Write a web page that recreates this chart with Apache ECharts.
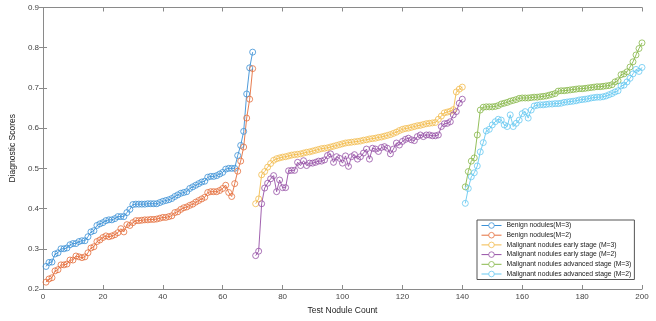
<!DOCTYPE html>
<html>
<head>
<meta charset="utf-8">
<script src="https://cdn.jsdelivr.net/npm/echarts@6/dist/echarts.min.js"></script>
<style>
html,body{margin:0;padding:0;background:#fff;}
#chart{width:656px;height:321px;}
</style>
</head>
<body>
<div id="chart"></div>
<script>
// Series names (legend order)
const seriesNames = [
  'Benign nodules(M=3)',
  'Benign nodules(M=2)',
  'Malignant nodules early stage (M=3)',
  'Malignant nodules early stage (M=2)',
  'Malignant nodules advanced stage (M=3)',
  'Malignant nodules advanced stage (M=2)'
];
// First x index of each series
const startIndex = [1, 1, 71, 71, 141, 141];

// Benign nodules, x = 1..70
const benignM3 = [0.256,0.266,0.267,0.287,0.290,0.300,0.300,0.302,0.310,0.313,
  0.313,0.318,0.320,0.320,0.330,0.342,0.345,0.358,0.362,0.365,
  0.370,0.372,0.372,0.375,0.380,0.380,0.380,0.390,0.398,0.410,
  0.411,0.411,0.411,0.411,0.412,0.412,0.412,0.412,0.415,0.418,
  0.420,0.422,0.425,0.430,0.434,0.438,0.440,0.442,0.450,0.454,
  0.458,0.462,0.466,0.468,0.478,0.480,0.480,0.482,0.486,0.490,
  0.498,0.500,0.500,0.500,0.532,0.557,0.592,0.685,0.750,0.789];
const benignM2 = [0.217,0.225,0.228,0.245,0.248,0.260,0.260,0.262,0.272,0.272,
  0.282,0.280,0.278,0.280,0.290,0.302,0.305,0.318,0.322,0.328,
  0.332,0.330,0.332,0.335,0.340,0.350,0.342,0.360,0.358,0.365,
  0.370,0.370,0.371,0.372,0.372,0.373,0.373,0.374,0.376,0.378,
  0.378,0.380,0.382,0.390,0.392,0.398,0.402,0.404,0.408,0.411,
  0.416,0.420,0.424,0.428,0.440,0.442,0.442,0.442,0.445,0.450,
  0.458,0.440,0.430,0.462,0.493,0.518,0.553,0.625,0.672,0.748];

// Malignant early stage, x = 71..140
const earlyM3 = [0.412,0.424,0.484,0.492,0.503,0.512,0.520,0.524,0.526,0.528,
  0.529,0.531,0.533,0.534,0.535,0.536,0.538,0.540,0.541,0.543,
  0.545,0.547,0.549,0.550,0.551,0.553,0.555,0.557,0.559,0.561,
  0.563,0.564,0.565,0.566,0.567,0.568,0.570,0.571,0.573,0.574,
  0.575,0.577,0.578,0.580,0.582,0.584,0.587,0.590,0.594,0.597,
  0.599,0.600,0.602,0.604,0.606,0.607,0.609,0.611,0.612,0.613,
  0.614,0.622,0.630,0.638,0.640,0.642,0.646,0.690,0.697,0.702];
const earlyM2 = [0.283,0.294,0.412,0.451,0.463,0.474,0.482,0.442,0.471,0.452,
  0.452,0.494,0.495,0.495,0.515,0.507,0.519,0.507,0.513,0.513,
  0.515,0.518,0.518,0.521,0.532,0.536,0.515,0.529,0.525,0.513,
  0.531,0.505,0.529,0.534,0.523,0.529,0.538,0.548,0.523,0.550,
  0.548,0.542,0.552,0.554,0.550,0.536,0.548,0.563,0.558,0.567,
  0.572,0.575,0.571,0.569,0.579,0.583,0.579,0.583,0.583,0.581,
  0.581,0.583,0.604,0.611,0.612,0.616,0.633,0.641,0.662,0.672];

// Malignant advanced stage, x = 141..200
const advM3 = [0.454,0.492,0.518,0.526,0.583,0.645,0.652,0.653,0.653,0.653,
  0.654,0.656,0.660,0.662,0.664,0.667,0.669,0.671,0.674,0.675,
  0.675,0.675,0.676,0.677,0.677,0.678,0.679,0.680,0.682,0.684,
  0.686,0.692,0.693,0.693,0.694,0.695,0.696,0.697,0.698,0.698,
  0.699,0.700,0.701,0.702,0.703,0.703,0.704,0.705,0.706,0.708,
  0.715,0.718,0.733,0.735,0.740,0.752,0.765,0.782,0.798,0.812];
const advM2 = [0.413,0.450,0.479,0.489,0.506,0.541,0.564,0.593,0.597,0.608,
  0.616,0.622,0.620,0.608,0.604,0.633,0.604,0.612,0.620,0.636,
  0.641,0.625,0.645,0.655,0.657,0.658,0.658,0.659,0.660,0.660,
  0.661,0.661,0.662,0.664,0.665,0.666,0.667,0.668,0.670,0.671,
  0.672,0.673,0.675,0.676,0.677,0.677,0.678,0.680,0.683,0.686,
  0.690,0.693,0.705,0.707,0.715,0.724,0.735,0.746,0.741,0.751];

// Axis ticks
const xTicks = [0,20,40,60,80,100,120,140,160,180,200];
const yTicks = [0.2,0.3,0.4,0.5,0.6,0.7,0.8,0.9];

const colors = ['#3b90d6','#e46e3c','#f2bb4c','#9650a6','#88b84a','#68c9f1'];
const allValues = [benignM3, benignM2, earlyM3, earlyM2, advM3, advM2];

const FONT = '"Liberation Sans", Arial, sans-serif';
const axisColor = '#8a8a8a';
const labelColor = '#444';

const series = allValues.map((vals, i) => ({
  name: seriesNames[i],
  type: 'line',
  xAxisIndex: 0,
  yAxisIndex: 0,
  data: vals.map((v, k) => [startIndex[i] + k, v]),
  symbol: 'circle',
  symbolSize: 6,
  showAllSymbol: true,
  lineStyle: { width: 0.9, color: colors[i] },
  itemStyle: { color: 'rgba(255,255,255,0)', borderColor: colors[i], borderWidth: 0.8 },
  emphasis: { disabled: true }
}));

const chart = echarts.init(document.getElementById('chart'), null, { renderer: 'canvas' });
chart.setOption({
  animation: false,
  backgroundColor: '#fff',
  color: colors,
  grid: { left: 41, right: 14, top: 7.5, bottom: 32, containLabel: false },
  legend: {
    data: seriesNames.map((n, i) => ({
      name: n,
      itemStyle: { color: '#fff', borderColor: colors[i], borderWidth: 0.8 },
      lineStyle: { color: colors[i], width: 1 }
    })),
    orient: 'vertical',
    left: 477,
    top: 220,
    itemWidth: 20,
    itemHeight: 7,
    itemGap: 2.7,
    padding: [2, 3, 2, 4],
    borderColor: '#555',
    borderWidth: 1,
    backgroundColor: '#fff',
    textStyle: { fontSize: 6.8, color: '#222', fontFamily: FONT }
  },
  xAxis: [{
    type: 'value',
    min: 0, max: 200, interval: 20,
    position: 'bottom',
    name: 'Test Nodule Count',
    nameLocation: 'middle',
    nameGap: 16.5,
    nameTextStyle: { fontSize: 8.5, color: '#222', fontFamily: FONT },
    axisLine: { show: true, lineStyle: { color: axisColor, width: 1 } },
    axisTick: { show: true, inside: true, length: 4, lineStyle: { color: axisColor } },
    axisLabel: { fontSize: 8, color: labelColor, margin: 4, fontFamily: FONT,
      customValues: xTicks },
    splitLine: { show: false }
  }, {
    type: 'value',
    min: 0, max: 200, interval: 20,
    position: 'top',
    axisLine: { show: true, lineStyle: { color: axisColor, width: 1 } },
    axisTick: { show: true, inside: true, length: 4, lineStyle: { color: axisColor } },
    axisLabel: { show: false },
    splitLine: { show: false }
  }],
  yAxis: [{
    type: 'value',
    min: 0.2, max: 0.9, interval: 0.1,
    position: 'left',
    name: 'Diagnostic Scores',
    nameLocation: 'middle',
    nameGap: 19,
    nameTextStyle: { fontSize: 8.5, color: '#222', fontFamily: FONT },
    axisLine: { show: true, lineStyle: { color: axisColor, width: 1 } },
    axisTick: { show: true, inside: true, length: 4, lineStyle: { color: axisColor } },
    axisLabel: { fontSize: 8, color: labelColor, margin: 4, fontFamily: FONT,
      customValues: yTicks,
      formatter: v => (Math.round(v * 10) / 10).toFixed(1) },
    splitLine: { show: false }
  }, {
    type: 'value',
    min: 0.2, max: 0.9, interval: 0.1,
    position: 'right',
    axisLine: { show: true, lineStyle: { color: axisColor, width: 1 } },
    axisTick: { show: true, inside: true, length: 4, lineStyle: { color: axisColor } },
    axisLabel: { show: false },
    splitLine: { show: false }
  }],
  series: series
});
</script>
</body>
</html>
